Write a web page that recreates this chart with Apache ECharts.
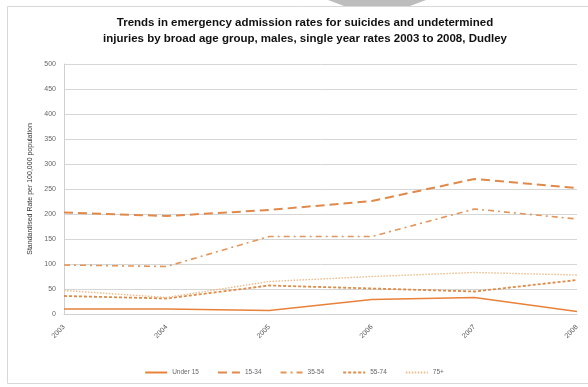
<!DOCTYPE html>
<html><head><meta charset="utf-8">
<script src="https://cdn.jsdelivr.net/npm/echarts@6/dist/echarts.min.js"></script>
<style>html,body{margin:0;padding:0;background:#fff}#c{width:588px;height:387px}</style>
</head><body><div id="c"></div>
<script>
const years = ['2003','2004','2005','2006','2007','2008'];
const under15 = [10, 10, 7, 29, 33, 5];
const age15_34 = [203, 196, 208, 226, 270, 252];
const age35_54 = [98, 95, 155, 155, 210, 190];
const age55_74 = [36, 31, 57, 51, 45, 68];
const age75p = [47, 33, 65, 75, 83, 78];
const yTicks = [0, 50, 100, 150, 200, 250, 300, 350, 400, 450, 500];

const chart = echarts.init(document.getElementById('c'));
function s(name, data, color, type, width) {
  return {name, type:'line', data, symbol:'none', smooth:false,
    lineStyle:{color, width, type}, itemStyle:{color}};
}
chart.setOption({
  animation:false,
  title:{text:'Trends in emergency admission rates for suicides and undetermined\ninjuries by broad age group, males, single year rates 2003 to 2008, Dudley',
    left:300, top:10, textAlign:'center',
    textStyle:{fontFamily:'Liberation Sans', fontSize:11.5, fontWeight:'bold', color:'#111', lineHeight:16}},
  graphic:[
    {type:'rect', shape:{x:7.5,y:6.5,width:590,height:377}, style:{fill:'none', stroke:'#d8d8d8', lineWidth:1}},
    {type:'polygon', shape:{points:[[328,0],[426,0],[410,6],[344,6]]}, style:{fill:'#bdbdbd'}}
  ],
  grid:{left:64, right:11, top:64, bottom:73},
  xAxis:{type:'category', data:years, boundaryGap:false,
    axisLine:{lineStyle:{color:'#d0d0d0'}}, axisTick:{show:false},
    axisLabel:{rotate:45, color:'#555', fontSize:7, fontFamily:'Liberation Sans', margin:12}},
  yAxis:{type:'value', min:yTicks[0], max:yTicks[yTicks.length-1], interval:50,
    name:'Standardised Rate per 100,000 population', nameLocation:'middle', nameGap:27,
    nameTextStyle:{fontSize:7, color:'#333', fontFamily:'Liberation Sans'},
    axisLine:{show:true, lineStyle:{color:'#d0d0d0'}}, axisTick:{show:false},
    splitLine:{lineStyle:{color:'#d6d6d6', width:1}},
    axisLabel:{color:'#666', fontSize:7, fontFamily:'Liberation Sans', margin:8}},
  legend:{bottom:6, left:'center', itemWidth:22, itemHeight:8, itemGap:18,
    itemStyle:{opacity:0},
    textStyle:{fontSize:6.5, color:'#666', fontFamily:'Liberation Sans'},
    data:['Under 15','15-34','35-54','55-74','75+']},
  series:[
    s('Under 15', under15, '#e8823a', 'solid', 1.6),
    s('15-34', age15_34, '#e0894a', [9,5], 2),
    s('35-54', age35_54, '#e3955a', [6,4,2,4], 1.6),
    s('55-74', age55_74, '#e08b46', [3,2], 1.8),
    s('75+', age75p, '#f0bb88', [1.5,1.5], 1.4)
  ]
});
</script></body></html>
